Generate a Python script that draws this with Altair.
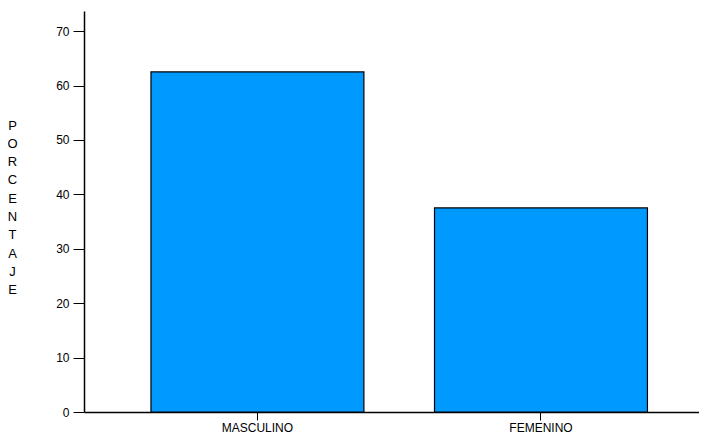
import altair as alt
import pandas as pd

categories = ["MASCULINO", "FEMENINO"]
values = [62.5, 37.5]
y_ticks = [0, 10, 20, 30, 40, 50, 60, 70]
y_title = ["P", "O", "R", "C", "E", "N", "T", "A", "J", "E"]

df = pd.DataFrame({"sexo": categories, "porcentaje": values})

chart = alt.Chart(df).mark_bar(
    color="#0099ff", stroke="black", strokeWidth=1.2
).encode(
    x=alt.X(
        "sexo:N",
        sort=categories,
        title=None,
        scale=alt.Scale(paddingInner=0.249, paddingOuter=0.209, align=0.565),
        axis=alt.Axis(labelAngle=0, tickSize=8, labelPadding=2,
                      domainWidth=1.5, tickWidth=1),
    ),
    y=alt.Y(
        "porcentaje:Q",
        scale=alt.Scale(domain=[0, 73.7], nice=False, zero=True),
        axis=alt.Axis(
            values=y_ticks, grid=False, tickSize=11, labelPadding=4,
            domainWidth=1.5, tickWidth=1,
            title=y_title, titleAngle=0, titleX=-72, titleY=114,
            titleAlign="center", titleBaseline="middle",
            titleLineHeight=18.3, titleFontSize=13, titleFontWeight="normal",
        ),
    ),
).properties(
    width=615,
    height=401,
    autosize=alt.AutoSizeParams(type="none"),
    padding={"left": 76, "top": 3, "right": 0, "bottom": 22},
).configure_view(
    stroke=None
).configure_axis(
    domainColor="black", tickColor="black", labelColor="black",
    titleColor="black", labelFont="Liberation Sans", titleFont="Liberation Sans",
    labelFontSize=12,
)

chart.save("out.html", embed_options={"renderer": "svg", "actions": False})
